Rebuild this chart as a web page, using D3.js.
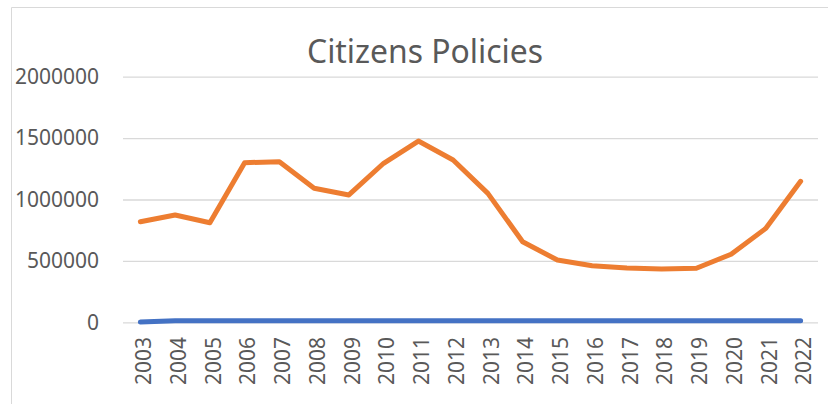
<!DOCTYPE html>
<html>
<head>
<meta charset="utf-8">
<script src="https://cdn.jsdelivr.net/npm/d3@7"></script>
<style>
  body { margin: 0; background: #fff; }
  text { font-family: "Noto Sans", "Open Sans", sans-serif; fill: #595959; }
</style>
</head>
<body>
<svg></svg>
<script>
var width = 828;
var height = 404;

var years = ['2003', '2004', '2005', '2006', '2007', '2008', '2009', '2010', '2011', '2012',
             '2013', '2014', '2015', '2016', '2017', '2018', '2019', '2020', '2021', '2022'];
var policies = [819000, 874000, 811000, 1300000, 1308000, 1091000, 1037000, 1295000, 1476000, 1322000,
                1050000, 656000, 507000, 461000, 442000, 434000, 440000, 554000, 765000, 1148000];
var other = [2000, 12000, 12000, 12000, 12000, 12000, 12000, 12000, 12000, 12000,
             12000, 12000, 12000, 12000, 12000, 12000, 12000, 12000, 12000, 12000];
var yTicks = [0, 500000, 1000000, 1500000, 2000000];

var svg = d3.select('svg')
    .attr('width', width)
    .attr('height', height);

// chart frame (only top and left edges are visible)
svg.append('path')
    .attr('d', 'M11.5,' + height + 'V7.5H' + width)
    .attr('fill', 'none')
    .attr('stroke', '#d9d9d9')
    .attr('stroke-width', 1);

var x = d3.scalePoint()
    .domain(years)
    .range([123, 818])
    .padding(0.5);

var y = d3.scaleLinear()
    .domain([0, 2000000])
    .range([322.3, 76.7]);

svg.append('text')
    .attr('x', 425)
    .attr('y', 63)
    .attr('text-anchor', 'middle')
    .attr('font-size', 32)
    .attr('textLength', 236)
    .attr('lengthAdjust', 'spacingAndGlyphs')
    .text('Citizens Policies');

// gridlines + y labels
var yAxis = svg.append('g')
    .attr('transform', 'translate(123,0)')
    .call(d3.axisLeft(y).tickValues(yTicks).tickSize(-695).tickPadding(24).tickFormat(d3.format('d')));
yAxis.select('.domain').remove();
yAxis.selectAll('.tick line').attr('stroke', '#d9d9d9').attr('stroke-width', 1.3);
yAxis.selectAll('.tick text')
    .attr('font-size', 21)
    .attr('fill', '#595959')
    .style('font-family', '"Noto Sans", sans-serif');

// x labels
var xAxis = svg.append('g')
    .attr('transform', 'translate(0,322)')
    .call(d3.axisBottom(x).tickSize(0).tickPadding(0));
xAxis.select('.domain').remove();
xAxis.selectAll('.tick text')
    .attr('font-size', 21)
    .attr('fill', '#595959')
    .style('font-family', '"Noto Sans", sans-serif')
    .attr('text-anchor', 'end')
    .attr('transform', 'translate(3,15) rotate(-90)')
    .attr('dy', '0.35em')
    .attr('x', 0)
    .attr('y', 0);

var line = d3.line()
    .x(function(d, i) { return x(years[i]); })
    .y(function(d) { return y(d); });

svg.append('path')
    .datum(other)
    .attr('d', line)
    .attr('fill', 'none')
    .attr('stroke', '#4472C4')
    .attr('stroke-width', 5)
    .attr('stroke-linecap', 'round')
    .attr('stroke-linejoin', 'round');

svg.append('path')
    .datum(policies)
    .attr('d', line)
    .attr('fill', 'none')
    .attr('stroke', '#ED7D31')
    .attr('stroke-width', 5)
    .attr('stroke-linecap', 'round')
    .attr('stroke-linejoin', 'round');
</script>
</body>
</html>
